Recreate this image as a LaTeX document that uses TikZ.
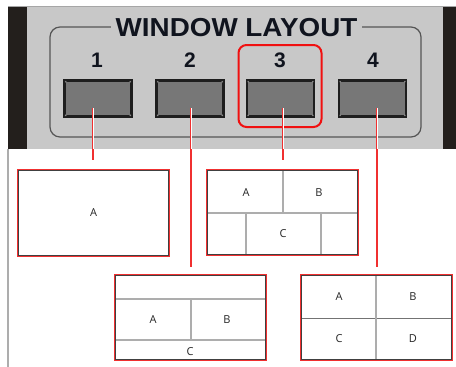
\documentclass[tikz,border=0pt]{standalone}
\usepackage{graphicx}
\usepackage{fontspec}
\setmainfont{Liberation Sans}
\newfontfamily\lblfont{Open Sans}
\definecolor{panelgray}{HTML}{C8C8C8}
\definecolor{stripdark}{HTML}{231F1C}
\definecolor{btngray}{HTML}{777777}
\definecolor{btnedge}{HTML}{1E1E1E}
\definecolor{framegray}{HTML}{555555}
\definecolor{divgray}{HTML}{ADADAD}
\definecolor{hlred}{HTML}{F01010}
\definecolor{boxred}{HTML}{F03030}
\definecolor{titleink}{HTML}{10141E}
\begin{document}
\begin{tikzpicture}[x=1pt,y=-1pt,
  btn/.style={draw=btnedge,line width=2.6pt,fill=btngray,minimum width=67pt,minimum height=36pt,inner sep=0pt},
  numtxt/.style={font=\fontsize{21}{21}\selectfont\bfseries,text=titleink,inner sep=0pt},
  layoutbox/.style={draw=boxred,line width=1.5pt,minimum width=152pt,minimum height=86pt,inner sep=0pt},
  innerframe/.style={draw=black!75,line width=0.9pt},
  divline/.style={draw=divgray,line width=1.1pt},
  lbl/.style={font=\lblfont\fontsize{11}{11}\selectfont,text=black!85,inner sep=0pt},
  conn/.style={draw=boxred,line width=1.3pt},
  connin/.style={draw=white,line width=0.8pt}
]
\useasboundingbox (0,0) rectangle (456,367);
\fill[white] (0,0) rectangle (456,367);
% panel
\fill[panelgray] (8,7) rectangle (456,149);
\fill[stripdark] (8,7) rectangle (27,149);
\fill[stripdark] (443,7) rectangle (456,149);
\draw[black!35,line width=1pt] (8,6.5) -- (456,6.5);
\draw[divgray,line width=1.5pt] (8,149) -- (8,367);
% frame
\draw[framegray,line width=1.2pt,rounded corners=10pt] (50,27) rectangle (421,137);
\node[fill=panelgray,inner xsep=5pt,inner ysep=2pt,text=titleink] (title) at (236.5,27.5) {\scalebox{1.07}[1]{\fontsize{26}{26}\selectfont\bfseries WINDOW LAYOUT}};
% numbers
\node[numtxt] (n1) at (97,60.5) {1};
\node[numtxt] (n2) at (190,60.5) {2};
\node[numtxt] (n3) at (280,60.5) {3};
\node[numtxt] (n4) at (373,60.5) {4};
% buttons
\node[btn] (b1) at (98,98.5) {};
\node[btn] (b2) at (190,98.5) {};
\node[btn] (b3) at (280.5,98.5) {};
\node[btn] (b4) at (372.5,98.5) {};
\foreach \b in {b1,b2,b3,b4}{
  \fill[black!45] ([shift={(2.5,2.5)}]\b.north west) circle (0.9pt);
  \fill[black!45] ([shift={(-2.5,2.5)}]\b.north east) circle (0.9pt);
  \fill[black!45] ([shift={(2.5,-2.5)}]\b.south west) circle (0.9pt);
  \fill[black!45] ([shift={(-2.5,-2.5)}]\b.south east) circle (0.9pt);
}
% highlight
\draw[hlred,line width=2pt,rounded corners=8pt] (238.5,45) rectangle (321.5,127);
% layout boxes
\node[layoutbox] (L1) at (93.5,213) {};
\node[layoutbox] (L3) at (282.5,212.5) {};
\node[layoutbox] (L2) at (190.5,317.5) {};
\node[layoutbox] (L4) at (376.5,317.5) {};
\foreach \L in {L1,L2,L3,L4}{
  \draw[innerframe] ([shift={(1.6,1.6)}]\L.north west) rectangle ([shift={(-1.6,-1.6)}]\L.south east);
}
% box 1
\node[lbl] (t1a) at (L1.center) {A};
% box 3
\draw[divline] (208,213) -- (357,213);
\draw[divline] (283,171) -- (283,213);
\draw[divline] (246,213) -- (246,254);
\draw[divline] (321,213) -- (321,254);
\node[lbl] (t3a) at (246,193) {A};
\node[lbl] (t3b) at (319,193) {B};
\node[lbl] (t3c) at (283,234) {C};
% box 2
\draw[divline] (116,299) -- (265,299);
\draw[divline] (116,340) -- (265,340);
\draw[divline] (191,299) -- (191,340);
\node[lbl] (t2a) at (153,319.5) {A};
\node[lbl] (t2b) at (227,319.5) {B};
\node[lbl] (t2c) at (190,352) {C};
% box 4
\draw[draw=black!55,line width=0.9pt] (302,318) -- (451,318);
\draw[divline] (376,276) -- (376,359);
\node[lbl] (t4a) at (339,297) {A};
\node[lbl] (t4b) at (413,297) {B};
\node[lbl] (t4c) at (339,339) {C};
\node[lbl] (t4d) at (413,339) {D};
% connectors
\coordinate (c1s) at (93,108);  \coordinate (c1e) at (93,160);  \coordinate (c1p) at (93,149);
\coordinate (c2s) at (191,108); \coordinate (c2e) at (191,267); \coordinate (c2p) at (191,149);
\coordinate (c3s) at (283,108); \coordinate (c3e) at (283,160); \coordinate (c3p) at (283,149);
\coordinate (c4s) at (377,108); \coordinate (c4e) at (377,267); \coordinate (c4p) at (377,149);
\foreach \i in {1,2,3,4}{
  \draw[conn] (c\i s) -- (c\i e);
  \draw[connin] (c\i s) -- (c\i p);
}
\end{tikzpicture}
\end{document}
